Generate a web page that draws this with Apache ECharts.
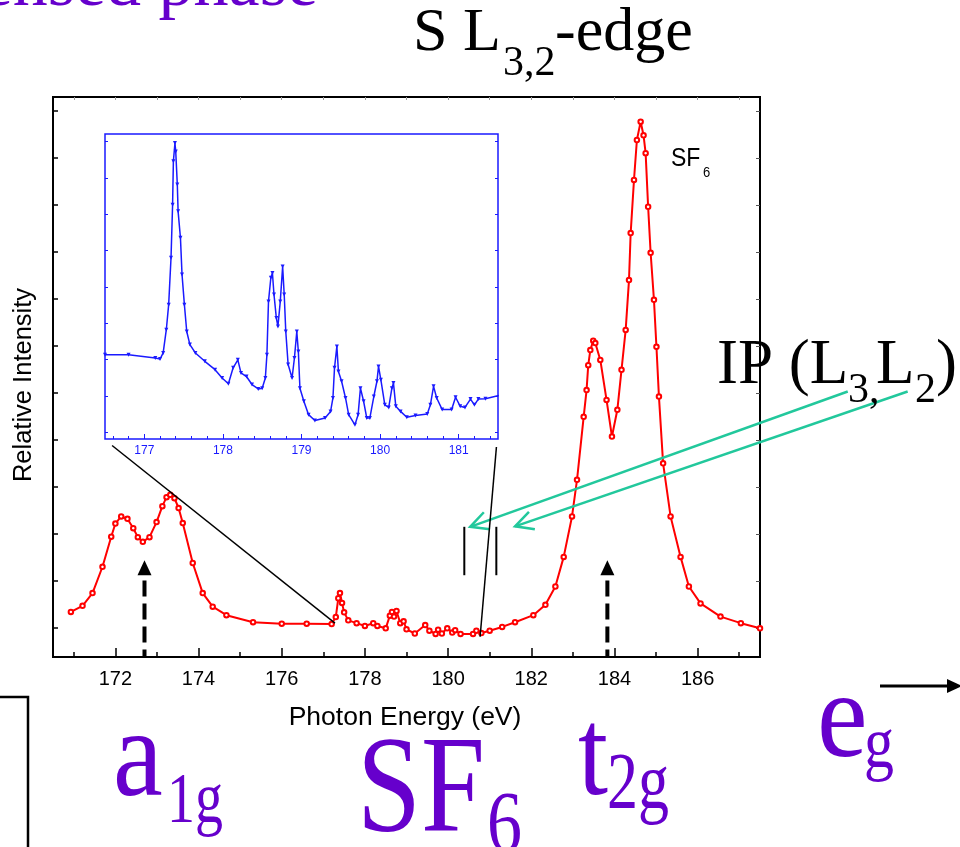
<!DOCTYPE html>
<html>
<head>
<meta charset="utf-8">
<script src="https://cdn.jsdelivr.net/npm/echarts@6/dist/echarts.min.js"></script>
<style>
  html, body { margin: 0; padding: 0; background: #fff; }
  #chart { width: 960px; height: 847px; }
</style>
</head>
<body>
<div id="chart"></div>
<script>
// S L3,2-edge photoabsorption of SF6: full scan (eV, relative intensity)
const mainEnergy = [
  170.93, 171.21, 171.45, 171.69, 171.90, 172.00, 172.14, 172.29, 172.43, 172.54,
  172.66, 172.82, 172.99, 173.13, 173.23, 173.32, 173.42, 173.52, 173.62, 173.86,
  174.10, 174.34, 174.67, 175.31, 176.00, 176.60, 177.20, 177.30, 177.36, 177.40,
  177.45, 177.50, 177.60, 177.80, 178.00, 178.20, 178.30, 178.50, 178.60, 178.65,
  178.70, 178.76, 178.85, 178.93, 179.00, 179.20, 179.45, 179.55, 179.70, 179.76,
  179.85, 179.98, 180.10, 180.17, 180.30, 180.60, 180.68, 180.80, 181.00, 181.30,
  181.61, 182.05, 182.34, 182.58, 182.78, 182.98, 183.10, 183.26, 183.33, 183.37,
  183.42, 183.49, 183.54, 183.66, 183.81, 183.94, 184.07, 184.17, 184.27, 184.35,
  184.39, 184.47, 184.54, 184.63, 184.70, 184.75, 184.81, 184.87, 184.95, 185.01,
  185.07, 185.17, 185.35, 185.59, 185.79, 186.07, 186.55, 187.04, 187.50
];
const mainIntensity = [
  9.6, 10.9, 13.6, 19.2, 25.6, 28.4, 29.9, 29.4, 27.4, 25.5,
  24.5, 25.5, 28.7, 32.1, 34.0, 34.5, 33.8, 31.7, 28.5, 20.0,
  13.6, 10.7, 8.9, 7.4, 7.1, 7.1, 7.0, 8.5, 12.5, 13.6,
  11.5, 9.5, 7.8, 7.2, 6.6, 7.2, 6.6, 6.1, 8.8, 9.6,
  8.6, 9.8, 7.2, 7.6, 5.9, 5.0, 6.8, 5.6, 4.9, 5.8,
  5.0, 6.1, 5.2, 5.7, 4.9, 4.9, 5.6, 5.1, 5.6, 6.4,
  7.4, 8.9, 11.1, 15.0, 21.3, 29.9, 37.7, 51.1, 56.8, 62.1,
  65.3, 67.3, 66.8, 63.2, 54.7, 46.9, 52.6, 61.1, 69.6, 80.2,
  90.2, 101.5, 110.0, 113.9, 111.0, 107.2, 95.8, 86.0, 76.0, 66.0,
  55.4, 41.2, 29.9, 21.3, 15.0, 11.4, 8.6, 7.2, 6.1
];

// Expanded Rydberg region 176.5-181.5 eV
const insetEnergy = [
  176.50, 176.80, 177.14, 177.20, 177.24, 177.28, 177.31, 177.34, 177.36, 177.37,
  177.39, 177.40, 177.42, 177.43, 177.46, 177.48, 177.51, 177.54, 177.58, 177.65,
  177.77, 177.90, 177.99, 178.07, 178.13, 178.19, 178.23, 178.30, 178.37, 178.45,
  178.50, 178.54, 178.56, 178.58, 178.61, 178.63, 178.65, 178.68, 178.70, 178.73,
  178.76, 178.78, 178.80, 178.83, 178.88, 178.91, 178.94, 178.96, 178.98, 179.03,
  179.09, 179.17, 179.30, 179.37, 179.40, 179.42, 179.45, 179.47, 179.51, 179.56,
  179.60, 179.68, 179.72, 179.75, 179.79, 179.83, 179.87, 179.92, 179.96, 179.98,
  180.01, 180.06, 180.11, 180.15, 180.17, 180.20, 180.26, 180.34, 180.45, 180.60,
  180.64, 180.68, 180.72, 180.79, 180.91, 180.96, 181.02, 181.08, 181.15, 181.20,
  181.25, 181.34, 181.51
];
const insetIntensity = [
  2.32, 2.32, 2.23, 2.20, 2.37, 3.01, 3.70, 4.99, 6.45, 7.65,
  8.15, 7.92, 7.01, 6.27, 5.54, 4.53, 3.70, 2.96, 2.60, 2.37,
  2.14, 1.91, 1.68, 1.52, 1.96, 2.18, 1.82, 1.72, 1.50, 1.38,
  1.40, 1.68, 2.32, 3.79, 4.44, 4.57, 3.98, 3.33, 3.10, 3.79,
  4.75, 3.98, 2.96, 2.05, 1.68, 2.23, 2.96, 2.41, 1.40, 1.04,
  0.67, 0.51, 0.58, 0.76, 1.13, 1.96, 2.55, 1.86, 1.59, 1.13,
  0.67, 0.39, 0.67, 1.40, 1.04, 0.58, 0.58, 1.17, 1.59, 2.00,
  1.63, 0.94, 0.87, 1.40, 1.54, 0.90, 0.76, 0.60, 0.65, 0.69,
  0.94, 1.45, 1.13, 0.81, 0.81, 1.15, 0.90, 0.87, 1.10, 0.94,
  1.10, 1.11, 1.20
];

// Tick positions
const mainMajorTicks = [172, 174, 176, 178, 180, 182, 184, 186];
const mainMinorTicks = [171, 173, 175, 177, 179, 181, 183, 185, 187];
const mainAllTicks = [171, 172, 173, 174, 175, 176, 177, 178, 179, 180, 181, 182, 183, 184, 185, 186, 187];
const mainYTicks = [6.2, 16.2, 26.2, 36.2, 46.2, 56.2, 66.2, 76.2, 86.2, 96.2, 106.2, 116.2];
const insetMajorTicks = [177, 178, 179, 180, 181];
const insetMinorTicks = [176.6, 176.8, 177.2, 177.4, 177.6, 177.8, 178.2, 178.4, 178.6, 178.8,
  179.2, 179.4, 179.6, 179.8, 180.2, 180.4, 180.6, 180.8, 181.2, 181.4];
const insetYTicks = [0.19, 1.19, 2.19, 3.19, 4.19, 5.19, 6.19, 7.19, 8.19];

// Annotation positions in data units (eV, intensity)
const peakArrowEnergies = [172.7, 183.83];
const ipEnergies = [180.39, 181.16];

const RED = '#ff0000';
const BLUE = '#1a1aff';
const PURPLE = '#6600cc';
const GREEN = '#22c89c';
const SERIF = '"Liberation Serif", "Times New Roman", serif';
const SANS = '"Liberation Sans", Arial, sans-serif';

const zip = (a, b) => a.map((v, i) => [v, b[i]]);

const chart = echarts.init(document.getElementById('chart'), null, { renderer: 'canvas' });

const noLine = { show: false };
const option = {
  animation: false,
  backgroundColor: '#fff',
  grid: [
    { left: 53, top: 97, width: 707, height: 560, show: true, borderColor: '#000', borderWidth: 2, backgroundColor: 'transparent' },
    { left: 105, top: 134, width: 393, height: 305, show: true, borderColor: BLUE, borderWidth: 1.5, backgroundColor: '#fff' }
  ],
  xAxis: [
    { // main bottom, major ticks + labels
      gridIndex: 0, type: 'value', min: 170.5, max: 187.5, position: 'bottom',
      axisLine: noLine, splitLine: { show: false },
      axisTick: { show: true, inside: true, length: 9, customValues: mainMajorTicks, lineStyle: { color: '#000', width: 1.5 } },
      axisLabel: { show: true, customValues: mainMajorTicks, margin: 12, color: '#000', fontFamily: SANS, fontSize: 20 }
    },
    { // main bottom, minor ticks
      gridIndex: 0, type: 'value', min: 170.5, max: 187.5, position: 'bottom',
      axisLine: noLine, splitLine: { show: false }, axisLabel: { show: false },
      axisTick: { show: true, inside: true, length: 5, customValues: mainMinorTicks, lineStyle: { color: '#000', width: 1.5 } }
    },
    { // main top ticks
      gridIndex: 0, type: 'value', min: 170.5, max: 187.5, position: 'top',
      axisLine: noLine, splitLine: { show: false }, axisLabel: { show: false },
      axisTick: { show: true, inside: true, length: 3, customValues: mainAllTicks, lineStyle: { color: '#999', width: 1 } }
    },
    { // inset bottom, major
      gridIndex: 1, type: 'value', min: 176.5, max: 181.5, position: 'bottom',
      axisLine: noLine, splitLine: { show: false },
      axisTick: { show: true, inside: true, length: 5, customValues: insetMajorTicks, lineStyle: { color: BLUE, width: 1 } },
      axisLabel: { show: true, customValues: insetMajorTicks, margin: 6, color: BLUE, fontFamily: SANS, fontSize: 12 }
    },
    { // inset bottom, minor
      gridIndex: 1, type: 'value', min: 176.5, max: 181.5, position: 'bottom',
      axisLine: noLine, splitLine: { show: false }, axisLabel: { show: false },
      axisTick: { show: true, inside: true, length: 3, customValues: insetMinorTicks, lineStyle: { color: BLUE, width: 1 } }
    }
  ],
  yAxis: [
    {
      gridIndex: 0, type: 'value', min: 0, max: 119.15, position: 'left',
      axisLine: noLine, splitLine: { show: false }, axisLabel: { show: false },
      axisTick: { show: true, inside: true, length: 5, customValues: mainYTicks, lineStyle: { color: '#000', width: 1.5 } }
    },
    {
      gridIndex: 0, type: 'value', min: 0, max: 119.15, position: 'right',
      axisLine: noLine, splitLine: { show: false }, axisLabel: { show: false },
      axisTick: { show: true, inside: true, length: 4, customValues: mainYTicks, lineStyle: { color: '#555', width: 1 } }
    },
    {
      gridIndex: 1, type: 'value', min: 0, max: 8.4, position: 'left',
      axisLine: noLine, splitLine: { show: false }, axisLabel: { show: false },
      axisTick: { show: true, inside: true, length: 3, customValues: insetYTicks, lineStyle: { color: BLUE, width: 1 } }
    },
    {
      gridIndex: 1, type: 'value', min: 0, max: 8.4, position: 'right',
      axisLine: noLine, splitLine: { show: false }, axisLabel: { show: false },
      axisTick: { show: true, inside: true, length: 3, customValues: insetYTicks, lineStyle: { color: BLUE, width: 1 } }
    }
  ],
  series: [
    {
      name: 'SF6', type: 'line', xAxisIndex: 0, yAxisIndex: 0,
      data: zip(mainEnergy, mainIntensity),
      symbol: 'emptyCircle', symbolSize: 4.5, showAllSymbol: true,
      lineStyle: { color: RED, width: 2 },
      itemStyle: { color: RED, borderColor: RED, borderWidth: 1 },
      z: 3
    },
    {
      name: 'SF6 Rydberg', type: 'line', xAxisIndex: 3, yAxisIndex: 2,
      data: zip(insetEnergy, insetIntensity),
      symbol: 'triangle', symbolRotate: 180, symbolSize: 4, showAllSymbol: true,
      lineStyle: { color: BLUE, width: 1.5 },
      itemStyle: { color: BLUE },
      z: 3
    }
  ]
};
chart.setOption(option);

// ---- annotations ----
const toMain = (x, y) => chart.convertToPixel({ seriesIndex: 0 }, [x, y]);
const toInset = (x, y) => chart.convertToPixel({ seriesIndex: 1 }, [x, y]);

// text anchored at its baseline (x, baseline)
function text(str, x, baseline, size, family, color, extra) {
  extra = extra || {};
  return {
    type: 'text', x: x, y: baseline, scaleY: extra.scaleY || 1, scaleX: extra.scaleX || 1,
    rotation: extra.rotation || 0, z: 50, silent: true,
    style: {
      text: str, x: 0, y: -0.34 * size, font: size + 'px ' + family, fill: color,
      align: extra.align || 'left', verticalAlign: 'middle',
      textAlign: extra.align || 'left', textVerticalAlign: 'middle'
    }
  };
}

function line(p1, p2, color, width, dash) {
  return {
    type: 'line', z: 40, silent: true,
    shape: { x1: p1[0], y1: p1[1], x2: p2[0], y2: p2[1] },
    style: { stroke: color, lineWidth: width, lineDash: dash || null }
  };
}

function openHead(tip, from, len, angDeg, color, width) {
  const dx = from[0] - tip[0], dy = from[1] - tip[1];
  const d = Math.hypot(dx, dy), ux = dx / d, uy = dy / d;
  const a = angDeg * Math.PI / 180, c = Math.cos(a), s = Math.sin(a);
  const p1 = [tip[0] + len * (ux * c - uy * s), tip[1] + len * (ux * s + uy * c)];
  const p2 = [tip[0] + len * (ux * c + uy * s), tip[1] + len * (-ux * s + uy * c)];
  return {
    type: 'polyline', z: 40, silent: true,
    shape: { points: [p1, tip, p2] },
    style: { stroke: color, lineWidth: width, fill: null }
  };
}

const g = [];

// dashed arrows under the a1g / t2g features
peakArrowEnergies.forEach(e => {
  const base = toMain(e, 0);
  const neck = toMain(e, 16.3);
  const headBase = toMain(e, 17.4);
  const tip = toMain(e, 20.6);
  g.push({
    type: 'line', z: 40, silent: true,
    shape: { x1: neck[0], y1: neck[1], x2: base[0], y2: base[1] },
    style: { stroke: '#000', lineWidth: 4, lineDash: [16, 7] }
  });
  g.push({
    type: 'polygon', z: 40, silent: true,
    shape: { points: [[tip[0], tip[1]], [headBase[0] - 7, headBase[1]], [headBase[0] + 7, headBase[1]]] },
    style: { fill: '#000' }
  });
});

// ionisation potential markers
ipEnergies.forEach(e => {
  g.push(line(toMain(e, 17.4), toMain(e, 27.7), '#000', 2));
});

// green arrows from the IP label to the markers
const greenArrows = [
  { tail: toMain(189.61, 56.5), tip: toMain(180.53, 27.7) },
  { tail: toMain(191.05, 56.5), tip: toMain(181.61, 27.8) }
];
greenArrows.forEach(a => {
  g.push(line(a.tail, a.tip, GREEN, 2.5));
  g.push(openHead(a.tip, a.tail, 20, 27, GREEN, 2.5));
});

// lines linking the inset window to the expanded range
g.push(line(toInset(176.59, -0.18), toMain(177.28, 7.2), '#000', 1.5));
g.push(line(toInset(181.48, -0.22), toMain(180.77, 4.3), '#000', 1.5));

// axis titles and in-plot label
g.push(text('Relative Intensity', 33, 385, 25.5, SANS, '#000', { rotation: Math.PI / 2, align: 'center' }));
g.push(text('Photon Energy (eV)', 405, 727, 26.5, SANS, '#000', { align: 'center' }));
g.push(text('SF', 671, 168, 23, SANS, '#000', { scaleY: 1.15 }));
g.push(text('6', 703, 178, 13, SANS, '#000', { scaleY: 1.15 }));

// edge title
g.push(text('S L', 413, 55, 62, SERIF, '#000'));
g.push(text('3,2', 503, 78, 42, SERIF, '#000'));
g.push(text('-edge', 555, 55, 62, SERIF, '#000'));

// ionisation potential label
g.push(text('IP (L', 717, 388, 63, SERIF, '#000'));
g.push(text('3,', 848, 405, 42, SERIF, '#000'));
g.push(text('L', 876, 388, 63, SERIF, '#000'));
g.push(text('2', 915, 405, 42, SERIF, '#000'));
g.push(text(')', 936, 388, 63, SERIF, '#000'));

// orbital symmetry labels
g.push(text('a', 113, 805, 112, SERIF, PURPLE, { scaleY: 1.12 }));
g.push(text('1g', 167, 828, 56, SERIF, PURPLE, { scaleY: 1.3 }));
g.push(text('SF', 357, 842, 115, SERIF, PURPLE, { scaleY: 1.2 }));
g.push(text('6', 487, 858, 70, SERIF, PURPLE, { scaleY: 1.25 }));
g.push(text('t', 578, 804, 108, SERIF, PURPLE, { scaleY: 1.15 }));
g.push(text('2g', 607, 814, 62, SERIF, PURPLE, { scaleY: 1.3 }));
g.push(text('e', 817, 766, 114, SERIF, PURPLE, { scaleY: 1.08 }));
g.push(text('g', 864, 773, 60, SERIF, PURPLE, { scaleY: 1.2 }));
g.push(text('condensed phase', 318, 10, 70, SERIF, PURPLE, { align: 'right' }));

// arrow beside e_g
g.push(line([880, 686], [950, 686], '#000', 3));
g.push({ type: 'polygon', z: 40, silent: true, shape: { points: [[962, 686], [947, 679], [947, 693]] }, style: { fill: '#000' } });

// frame corner at lower left
g.push({ type: 'polyline', z: 40, silent: true, shape: { points: [[0, 697], [28, 697], [28, 847]] }, style: { stroke: '#000', lineWidth: 2.5, fill: null } });

chart.setOption({ graphic: { elements: g } });
</script>
</body>
</html>
